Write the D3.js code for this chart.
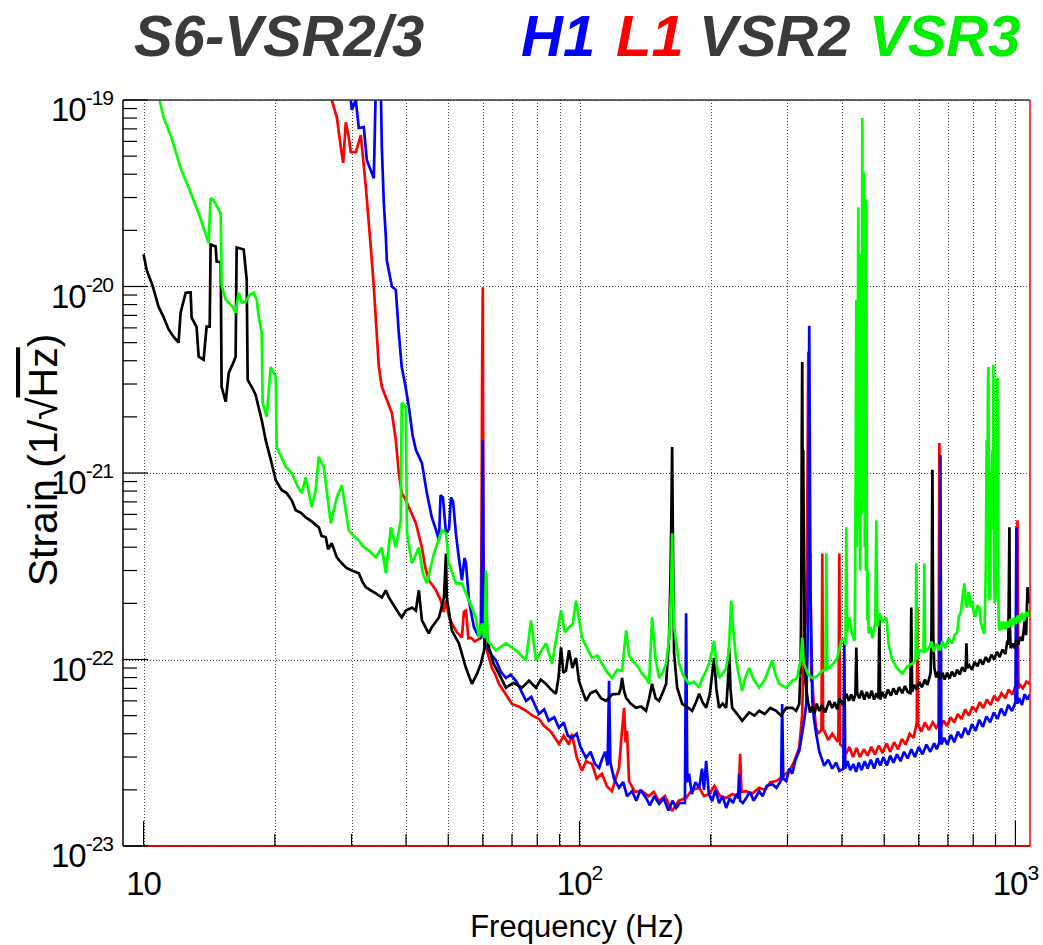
<!DOCTYPE html>
<html><head><meta charset="utf-8">
<script src="https://cdn.jsdelivr.net/npm/d3@7"></script>
<style>body{margin:0;background:#fff}text{font-family:"Liberation Sans",Arial,sans-serif}</style>
</head><body><svg id="c" width="1043" height="945"></svg>
<script>
// ---------- data: [frequency (Hz), strain (1/sqrt(Hz))] ----------
const h1Data = [[29.88,1.0e-19],[30.04,8.84e-20],[30.68,1.0e-19],[31.17,7.08e-20],[32.0,7.16e-20],[32.52,4.76e-20],[33.2,4.2e-20],[33.74,3.81e-20],[34.1,1.2e-19],[35.0,1.2e-19],[35.2,5.6e-20],[35.57,2.8e-20],[35.96,1.84e-20],[36.14,1.38e-20],[37.12,1.0e-20],[37.9,9.6e-21],[38.5,5.65e-21],[39.1,3.7e-21],[39.8,3.0e-21],[40.6,2.26e-21],[41.4,1.6e-21],[42.13,1.33e-21],[43.5,1.13e-21],[44.65,7.8e-22],[45.84,5.78e-22],[46.8,5.0e-22],[47.6,4.35e-22],[48.0,7.6e-22],[48.6,7.4e-22],[49.4,4.75e-22],[50.2,5.0e-22],[50.7,7.4e-22],[51.3,7.0e-22],[52.05,4.75e-22],[52.8,3.6e-22],[53.73,2.66e-22],[54.5,3.5e-22],[54.9,3.28e-22],[55.77,2.07e-22],[57.26,1.49e-22],[58.5,1.35e-22],[59.5,1.3e-22],[59.8,6e-22],[60.0,1.5e-21],[60.2,3e-22],[60.5,1.2e-22],[61.5,1.16e-22],[63,1.05e-22],[64.3,9.9e-23],[66,8.6e-23],[67.8,7.96e-23],[69.5,8.3e-23],[71.5,7.69e-23],[73,7.0e-23],[75.4,6.0e-23],[77.5,6.3e-23],[80.7,5.11e-23],[83,5.4e-23],[85,4.7e-23],[87.5,4.9e-23],[89.7,4.3e-23],[92,4.6e-23],[94,3.9e-23],[96.1,3.8e-23],[98.5,4.0e-23],[100.5,3.4e-23],[103.5,2.97e-23],[106,3.2e-23],[108.5,2.75e-23],[110.9,2.62e-23],[112.5,2.9e-23],[114.5,3.2e-23],[116,2.7e-23],[116.9,7.69e-23],[117.7,2.8e-23],[120,2.3e-23],[123.2,2.05e-23],[126,2.2e-23],[128.5,1.85e-23],[132,1.97e-23],[135,1.75e-23],[138,2.0e-23],[142.1,1.81e-23],[145,1.65e-23],[148.5,1.85e-23],[152.3,1.68e-23],[156,1.8e-23],[160,1.55e-23],[163.5,1.75e-23],[166.6,1.6e-23],[170,1.7e-23],[174.5,1.7e-23],[175.6,1.77e-22],[176.7,2.2e-23],[178.4,2.44e-23],[181,1.9e-23],[184.5,2.2e-23],[188.2,2.05e-23],[191,2.6e-23],[193,2.0e-23],[195.2,2.86e-23],[198,1.9e-23],[201.5,1.74e-23],[205,2.0e-23],[209,1.7e-23],[213,1.85e-23],[217,1.6e-23],[221,1.8e-23],[225,1.7e-23],[229,1.9e-23],[231.5,1.8e-23],[232.3,2.44e-23],[233.5,1.75e-23],[237,1.7e-23],[241.2,1.81e-23],[246,1.95e-23],[251,1.75e-23],[258.4,1.97e-23],[263,1.85e-23],[269,2.1e-23],[276.7,2.15e-23],[283,2.05e-23],[290,2.25e-23],[291.7,5.78e-23],[293.3,2.3e-23],[298,2.23e-23],[303,2.6e-23],[307.6,2.44e-23],[313,2.9e-23],[319.2,3.24e-23],[324,4.0e-23],[328,4.8e-23],[331.3,5.78e-23],[333.5,1.1e-22],[335.5,8e-22],[336.5,6.16e-21],[337.5,1.5e-21],[338.7,2.4e-22],[340.1,1.4e-22],[342,6.0e-23],[345,4.8e-23],[349.1,4.0e-23],[355,3.2e-23],[364.2,2.69e-23],[372,2.9e-23],[380,2.6e-23],[388,2.8e-23],[394.4,2.53e-23],[403,2.6e-23],[405,1.26e-22],[407,2.6e-23],[412,2.85e-23],[418,2.55e-23],[425,2.75e-23],[431,2.5e-23],[437,2.8e-23],[444,2.55e-23],[451,2.85e-23],[458,2.6e-23],[466,2.9e-23],[474,2.6e-23],[482,2.95e-23],[490,2.7e-23],[498,3.0e-23],[507,2.7e-23],[516,3.05e-23],[525,2.8e-23],[535,3.1e-23],[545,2.85e-23],[555,3.2e-23],[566,2.95e-23],[577,3.3e-23],[588,3.0e-23],[600,3.4e-23],[612,3.1e-23],[625,3.5e-23],[638,3.2e-23],[651,3.55e-23],[660,3.3e-23],[669,3.6e-23],[672.8,1.25e-21],[676,3.5e-23],[686,3.8e-23],[698,3.5e-23],[711,3.95e-23],[724,3.6e-23],[738,4.1e-23],[752,3.8e-23],[766,4.3e-23],[780,3.95e-23],[795,4.5e-23],[810,4.15e-23],[826,4.75e-23],[842,4.35e-23],[858,4.95e-23],[875,4.6e-23],[892,5.2e-23],[909,4.8e-23],[927,5.45e-23],[945,5.0e-23],[963,5.7e-23],[982,5.3e-23],[1000,5.9e-23],[1005,5.11e-22],[1010,5.8e-23],[1020,6.2e-23],[1035,5.7e-23],[1050,6.5e-23],[1066,6.1e-23],[1080,6.5e-23]];

const l1Data = [[27.02,1.0e-19],[27.75,8.1e-20],[28.34,5.6e-20],[28.7,4.6e-20],[29.1,7.6e-20],[29.5,6.5e-20],[29.88,5.26e-20],[30.68,5.26e-20],[31.5,6.49e-20],[32.35,3.41e-20],[33.2,1.63e-20],[33.74,1.0e-20],[34.2,6e-21],[34.65,3.7e-21],[35.2,2.9e-21],[36.14,2.47e-21],[37.12,2.1e-21],[37.9,1.5e-21],[38.5,1.0e-21],[39.1,7.8e-22],[39.8,7.3e-22],[40.6,6.55e-22],[42.13,5.38e-22],[43.5,3.99e-22],[44.3,3.1e-22],[45.1,2.66e-22],[46.0,2.5e-22],[46.84,2.35e-22],[48.08,2.07e-22],[48.8,1.8e-22],[49.4,2.07e-22],[50.2,1.7e-22],[50.96,1.56e-22],[52.3,1.4e-22],[53.73,1.31e-22],[54.3,1.8e-22],[54.9,1.83e-22],[55.6,1.3e-22],[56.36,1.31e-22],[57.5,1.25e-22],[59.3,1.3e-22],[59.6,4.3e-22],[59.8,3.7e-21],[60.0,9.9e-21],[60.2,4.2e-22],[60.6,1.22e-22],[61.8,1.05e-22],[62.96,9.0e-23],[64,8.4e-23],[65.34,7.4e-23],[67.5,6.6e-23],[69.98,5.78e-23],[72.5,5.6e-23],[75.4,5.31e-23],[78,5.0e-23],[80.7,4.81e-23],[83,4.4e-23],[86,4.1e-23],[89.7,3.53e-23],[92,3.9e-23],[94.5,3.5e-23],[96.1,3.99e-23],[98.5,3.0e-23],[101.3,2.53e-23],[103.5,2.85e-23],[106.8,2.76e-23],[109.5,2.3e-23],[112.6,2.44e-23],[115.5,2.1e-23],[118.7,1.97e-23],[121,2.3e-23],[123.2,2.62e-23],[125,4.0e-23],[126.6,5.51e-23],[127.5,3.6e-23],[128.5,4.15e-23],[129.9,2.23e-23],[134,1.95e-23],[139.2,1.97e-23],[144,1.85e-23],[148,1.95e-23],[152.3,1.74e-23],[157,1.85e-23],[163.1,1.54e-23],[169,1.75e-23],[175.6,1.81e-23],[181,2.0e-23],[188.2,2.05e-23],[193,1.85e-23],[198.4,1.9e-23],[204,2.1e-23],[210,1.85e-23],[217,1.81e-23],[224,1.9e-23],[230,1.85e-23],[232,2.0e-23],[233.6,3.12e-23],[235.3,1.95e-23],[241.2,1.97e-23],[248,1.9e-23],[258.4,2.05e-23],[266,2.0e-23],[274,2.2e-23],[282.6,2.23e-23],[292,2.35e-23],[302.7,2.53e-23],[310,2.8e-23],[319.2,3.36e-23],[324,5e-23],[326,8e-23],[327.8,2.07e-22],[330,1.5e-22],[332,3e-22],[333.5,1e-21],[334.8,4.47e-21],[336,1.2e-21],[337,2e-22],[338.3,3.7e-22],[340,7.7e-23],[342,7.69e-23],[345,5.5e-23],[349.1,4.3e-23],[353,4.0e-23],[359,4.2e-23],[360.6,3.7e-22],[362,4.2e-23],[364.2,4.15e-23],[372,3.7e-23],[380,4.0e-23],[390.3,3.66e-23],[392.5,3.7e-23],[394.4,3.7e-22],[396.3,3.5e-23],[400.6,3.44e-23],[408,3.1e-23],[416,3.4e-23],[424,3.0e-23],[432,3.35e-23],[440,3.0e-23],[449,3.3e-23],[458,3.05e-23],[467,3.4e-23],[476,3.1e-23],[486,3.45e-23],[496,3.15e-23],[506,3.55e-23],[516,3.2e-23],[527,3.6e-23],[538,3.3e-23],[549,3.75e-23],[560,3.5e-23],[572,4.0e-23],[584,3.8e-23],[594,4.6e-23],[595.7,1.9e-22],[597.5,4.5e-23],[608,4.1e-23],[620,4.6e-23],[633,4.2e-23],[646,4.6e-23],[658,4.3e-23],[666,4.5e-23],[669.2,1.45e-21],[672.5,4.3e-23],[684,4.7e-23],[697,4.4e-23],[710,4.9e-23],[724,4.6e-23],[738,5.1e-23],[752,4.8e-23],[767,5.4e-23],[782,5.0e-23],[797,5.6e-23],[812,5.3e-23],[828,5.9e-23],[844,5.5e-23],[860,6.1e-23],[877,5.7e-23],[894,6.4e-23],[911,6.0e-23],[929,6.6e-23],[947,6.2e-23],[965,6.9e-23],[984,6.5e-23],[1000,7.2e-23],[1006,6.9e-23],[1011,5.58e-22],[1016,7e-23],[1025,7.3e-23],[1040,7.0e-23],[1060,7.6e-23],[1080,7.4e-23]];

const vsr2Data = [[10,1.49e-20],[10.16,1.23e-20],[10.5,1.0e-20],[10.82,7.8e-21],[11.1,6.9e-21],[11.41,5.9e-21],[11.7,5.4e-21],[12.03,5.0e-21],[12.16,7.23e-21],[12.49,9.26e-21],[12.82,9.3e-21],[12.89,6.8e-21],[13.23,6.08e-21],[13.38,4.2e-21],[13.73,4.05e-21],[13.95,6.1e-21],[14.18,6.1e-21],[14.25,1.68e-20],[14.63,1.64e-20],[14.71,1.36e-20],[15.03,1.35e-20],[15.1,2.9e-21],[15.43,2.41e-21],[15.68,3.44e-21],[16.09,3.94e-21],[16.26,4.2e-21],[16.35,1.62e-20],[16.97,1.58e-20],[17.24,1.09e-20],[17.33,3.16e-21],[17.7,2.9e-21],[18.08,2.62e-21],[18.4,2.2e-21],[18.66,1.93e-21],[19.06,1.5e-21],[19.67,1.13e-21],[20.1,9.15e-22],[20.75,8.08e-22],[21.3,7.8e-22],[21.87,7.14e-22],[22.34,6.31e-22],[23.0,6.1e-22],[23.55,5.78e-22],[24.3,5.5e-22],[25.23,5.11e-22],[25.6,4.6e-22],[26.18,4.52e-22],[26.5,3.9e-22],[27.02,4.2e-22],[27.75,3.53e-22],[28.49,3.28e-22],[29.2,3.1e-22],[30.04,3.0e-22],[31.17,2.9e-22],[31.8,2.6e-22],[32.35,2.44e-22],[33.2,2.35e-22],[34.1,2.26e-22],[35.2,2.15e-22],[35.96,2.35e-22],[36.53,2.15e-22],[37.5,1.95e-22],[38.5,1.77e-22],[39.1,1.68e-22],[39.96,1.83e-22],[41.25,1.9e-22],[42.13,1.83e-22],[42.8,2.35e-22],[43.5,1.62e-22],[45.1,1.38e-22],[45.84,1.49e-22],[47.6,1.68e-22],[48.87,2.15e-22],[49.4,3.7e-22],[49.6,2.15e-22],[50.96,1.43e-22],[52.9,1.22e-22],[54.9,9.0e-23],[56.66,7.4e-23],[58.2,8.4e-23],[59.4,9.5e-23],[60.3,1.1e-22],[60.7,1.2e-22],[61.0,2.9e-22],[61.4,1.3e-22],[61.97,1.16e-22],[63.5,9.5e-23],[65.34,8.4e-23],[67.8,7.06e-23],[70.5,7.5e-23],[73.8,7.06e-23],[76.6,7.69e-23],[79.45,7.06e-23],[81.5,7.8e-23],[83.8,7.4e-23],[86,6.9e-23],[88.3,6.55e-23],[89.5,8e-23],[90.7,1.16e-22],[91.8,8.5e-23],[93.1,8.7e-23],[94.6,1.12e-22],[96.3,9e-23],[98.2,1.02e-22],[99.7,7.69e-23],[101.5,6.8e-23],[103.5,6.0e-23],[106,6.6e-23],[109.1,6.8e-23],[112,6.2e-23],[115,6.0e-23],[119,6.5e-23],[123.2,6.55e-23],[124.3,7e-23],[125.2,7.96e-23],[126.5,6.8e-23],[127.9,6.22e-23],[131,5.8e-23],[134.8,5.51e-23],[138.5,5.6e-23],[142.1,5.31e-23],[144.5,6.2e-23],[146.7,7.4e-23],[149.5,6.2e-23],[152.3,6.0e-23],[155,6.6e-23],[158,7.4e-23],[160.5,1.31e-22],[161.8,3e-22],[162.6,7e-22],[163.1,1.38e-21],[163.7,5e-22],[164.3,2e-22],[164.8,1.08e-22],[167.5,7.06e-23],[172,5.78e-23],[176,5.6e-23],[181.3,5.31e-23],[185,5.9e-23],[188.2,6.55e-23],[191.5,5.9e-23],[195.2,5.51e-23],[199,6.5e-23],[203.6,1.02e-22],[206,7e-23],[209,5.51e-23],[213,5.8e-23],[217,5.51e-23],[219,7.5e-23],[220.4,1.16e-22],[222,7e-23],[224,5.51e-23],[230,5.1e-23],[236.1,4.69e-23],[245,5.2e-23],[252,5.0e-23],[258.4,5.31e-23],[266,5.1e-23],[274,5.5e-23],[282.6,5.31e-23],[290,5.0e-23],[298,5.5e-23],[307.6,5.51e-23],[314,5.3e-23],[319.2,5.78e-23],[321.5,9e-23],[322.6,2.07e-22],[323.5,1.5e-21],[324.3,3.94e-21],[325,8e-22],[326,1.33e-21],[327.2,3e-22],[329.5,7.69e-23],[334,6e-23],[338,5.2e-23],[342,5.6e-23],[346,5.1e-23],[350,5.8e-23],[355,5.3e-23],[360,5.7e-23],[366,5.2e-23],[374,6.0e-23],[380,5.5e-23],[385,5.9e-23],[390,5.4e-23],[395,6.2e-23],[402,5.7e-23],[409.3,6.55e-23],[415,6.0e-23],[420,6.5e-23],[425,6.0e-23],[429.5,6.5e-23],[431.5,1.16e-22],[433.5,6.6e-23],[438.4,6.2e-23],[444,6.8e-23],[450,6.1e-23],[456,6.7e-23],[462,6.2e-23],[468,6.8e-23],[474,6.1e-23],[480,6.6e-23],[485,6.2e-23],[487.3,1.77e-22],[489.5,6.1e-23],[495,6.7e-23],[502,6.2e-23],[510,6.9e-23],[518,6.4e-23],[525,7.0e-23],[533,6.5e-23],[541,7.1e-23],[550,6.6e-23],[558,7.2e-23],[566,6.7e-23],[574,6.6e-23],[576.9,1.9e-22],[579.5,6.7e-23],[586,7.3e-23],[594,6.9e-23],[602,7.6e-23],[610,7.1e-23],[620,7.8e-23],[628,7.3e-23],[634.7,7.96e-23],[639,8.5e-23],[642,1.5e-22],[643.5,4e-22],[645,1.04e-21],[646.5,3e-22],[648,1.3e-22],[651.6,9.0e-23],[658,8.0e-23],[665,8.6e-23],[672,7.8e-23],[680,8.5e-23],[688,7.8e-23],[697,8.5e-23],[706,7.9e-23],[715,8.6e-23],[725,8.1e-23],[735,8.8e-23],[745,8.3e-23],[755,9.1e-23],[765,8.6e-23],[769,9e-23],[772,1.22e-22],[775,9e-23],[784,9.3e-23],[795,8.8e-23],[806,9.7e-23],[818,9.2e-23],[830,1.0e-22],[842,9.4e-23],[855,1.03e-22],[868,9.7e-23],[881,1.06e-22],[894,1.0e-22],[907,1.1e-22],[920,1.03e-22],[934,1.13e-22],[948,1.07e-22],[958.6,1.26e-22],[963,1.2e-22],[966,2.5e-22],[968.7,5.11e-22],[971,1.5e-22],[975,1.15e-22],[985,1.22e-22],[995,1.15e-22],[1005,1.27e-22],[1015,1.2e-22],[1025,1.32e-22],[1038,1.26e-22],[1050,1.6e-22],[1058,1.35e-22],[1066,2.44e-22],[1075,2.0e-22]];

const vsr3Data = [[10.88,1.0e-19],[11.11,8.1e-20],[11.6,6.25e-20],[12.16,4.31e-20],[12.68,3.41e-20],[13.38,2.47e-20],[14.1,1.71e-20],[14.25,2.98e-20],[14.48,2.9e-20],[15.03,2.47e-20],[15.1,1.02e-20],[15.43,8.5e-21],[16.0,7.8e-21],[16.26,7.23e-21],[16.52,9.26e-21],[16.8,8.2e-21],[17.15,8.3e-21],[17.5,9.0e-21],[17.89,9.26e-21],[18.17,8.5e-21],[18.37,6.88e-21],[18.66,5.65e-21],[18.76,2.38e-21],[19.16,2.0e-21],[19.57,3.7e-21],[20.1,3.28e-21],[20.2,1.38e-21],[21.19,1.08e-21],[21.87,1.0e-21],[22.5,8.6e-22],[23.06,7.8e-22],[23.55,9.5e-22],[24.31,6.55e-22],[24.8,8e-22],[25.23,1.22e-21],[25.9,1.08e-21],[26.88,5.38e-22],[27.75,7.4e-22],[28.49,8.6e-22],[29.56,4.93e-22],[30.3,4.6e-22],[31.17,4.35e-22],[32.0,4.0e-22],[32.87,3.84e-22],[34.1,3.53e-22],[35.2,3.99e-22],[35.96,2.9e-22],[36.92,5.11e-22],[37.9,3.99e-22],[38.9,5.58e-22],[39.1,2.38e-21],[39.96,2.26e-21],[40.2,4.75e-22],[41.25,3.28e-22],[42.8,3.99e-22],[43.7,2.9e-22],[44.65,2.56e-22],[46.35,3.7e-22],[48.33,4.93e-22],[49.4,4.75e-22],[50.15,3.28e-22],[52.05,2.56e-22],[53.73,2.56e-22],[55.77,2.07e-22],[57.85,1.68e-22],[58.78,1.31e-22],[59.72,1.56e-22],[60.6,1.3e-22],[61.0,3.0e-22],[61.5,1.26e-22],[64.3,1.12e-22],[67.8,1.22e-22],[71.5,1.12e-22],[75.4,9.9e-23],[77.4,1.62e-22],[79.45,9.9e-23],[81.5,1.1e-22],[83.8,1.22e-22],[86.5,9.5e-23],[90.7,1.83e-22],[92.5,1.4e-22],[94.6,1.49e-22],[96.5,1.55e-22],[98.2,2.07e-22],[101.3,1.31e-22],[104,1.15e-22],[106.8,1.02e-22],[110,1.05e-22],[112.6,9.5e-23],[115.5,8.6e-23],[118.7,7.96e-23],[122,8.8e-23],[125.2,8.7e-23],[127.9,1.43e-22],[130,1.05e-22],[132,9.9e-23],[136,9.2e-23],[139.2,8.4e-23],[142,8.0e-23],[144.4,7.4e-23],[146.7,1.68e-22],[149.5,1.0e-22],[152.3,7.96e-23],[155,8.5e-23],[158,9.5e-23],[160.5,1.3e-22],[162.3,2.4e-22],[163.1,4.75e-22],[164,2.2e-22],[164.8,1.49e-22],[169.2,9.5e-23],[173,8.2e-23],[178.4,7.4e-23],[183,7.6e-23],[188.2,7.06e-23],[191,7.9e-23],[195.2,8.7e-23],[199,9.8e-23],[203.6,1.26e-22],[206,9.5e-23],[209,7.96e-23],[213,8.4e-23],[217,9.0e-23],[220,1.1e-22],[222.8,2.07e-22],[225.5,1.4e-22],[228.8,9.9e-23],[232,8.2e-23],[236.1,6.8e-23],[240,8.0e-23],[245.1,9.0e-23],[251,7.8e-23],[258.4,7.06e-23],[266,7.8e-23],[276.7,9.9e-23],[282,8.2e-23],[287.2,7.4e-23],[298,7.06e-23],[307.6,7.69e-23],[315,7.9e-23],[322,1.0e-22],[324.3,1.31e-22],[327,9.5e-23],[335,8.3e-23],[342,7.96e-23],[350,8.1e-23],[360.6,8.7e-23],[366.5,8.8e-23],[368.3,3.7e-22],[370,8.9e-23],[374,9.0e-23],[382,9.5e-23],[390.3,1.02e-22],[398.6,1.26e-22],[405,1.3e-22],[407.5,1.2e-22],[409.3,5.11e-22],[411,1.4e-22],[415.8,1.68e-22],[421,1.4e-22],[426.9,1.26e-22],[428,1.3e-22],[430,8e-22],[431.5,8.5e-21],[433,4e-22],[434.5,3e-21],[436.1,2.66e-20],[437.5,5e-22],[439,6e-21],[440.5,3e-22],[442,1.5e-20],[443.1,2.47e-21],[444.3,6e-22],[445.4,8e-20],[446.5,1.5e-21],[447.7,7.14e-22],[449,1.2e-20],[450.1,4.1e-20],[451.3,4e-22],[452.5,8e-21],[453.7,3e-22],[454.9,2.94e-20],[456,5e-22],[457.3,1.62e-22],[459,3e-22],[460.5,1.38e-22],[465,1.5e-22],[470,1.3e-22],[477,1.6e-22],[479.6,5.58e-22],[482,1.5e-22],[487.3,1.77e-22],[495,1.6e-22],[505.6,1.68e-22],[512,1.2e-22],[521.9,9.9e-23],[535,9e-23],[550.3,8.4e-23],[565,9.2e-23],[580,9.5e-23],[590,1e-22],[592.5,3.28e-22],[595,1e-22],[602,1.12e-22],[615.5,1.1e-22],[618,3.28e-22],[620.5,1.1e-22],[634.7,1.16e-22],[642,1.25e-22],[650,1.1e-22],[660,1.22e-22],[669.2,1.12e-22],[680,1.25e-22],[690,1.15e-22],[703,1.3e-22],[716.6,1.22e-22],[725,1.35e-22],[735,1.4e-22],[742,1.7e-22],[750,1.8e-22],[757,2.2e-22],[763.7,2.56e-22],[769,2.0e-22],[775,1.9e-22],[780,2.3e-22],[785,2.2e-22],[790,1.9e-22],[796.8,2.07e-22],[803,1.75e-22],[810,1.7e-22],[818,1.95e-22],[826.7,1.9e-22],[832,1.6e-22],[838,1.5e-22],[845,1.4e-22],[849,1.38e-22],[855,3e-22],[859,1.5e-21],[862.6,7.14e-22],[865,3e-21],[867.1,3.7e-21],[869,3e-22],[871.7,2.07e-22],[875,3e-22],[880,9e-22],[885.6,1.33e-21],[888,5e-22],[890.3,3.8e-21],[893,4e-22],[896,2e-22],[899.8,2.07e-22],[903,5e-22],[906,1.5e-21],[909.4,3.24e-21],[912,3e-22],[916,1.5e-22],[919,1.43e-22],[925,1.6e-22],[932,1.45e-22],[940,1.6e-22],[948,1.45e-22],[956,1.6e-22],[964,1.48e-22],[973,1.65e-22],[982,1.5e-22],[992,1.68e-22],[1002,1.55e-22],[1012,1.72e-22],[1022,1.58e-22],[1034,1.78e-22],[1046,1.62e-22],[1058,1.8e-22],[1068,1.7e-22],[1080,1.85e-22]];

const seriesNames = ["H1","L1","VSR2","VSR3"];
const seriesColors = ["#0000ff","#ff0000","#3a3a3a","#00ee00"];
const xMajorTicks = [10,100,1000];
const xMajorLabels = [["10",""],["10","2"],["10","3"]];
const yMajorTicks = [1e-23,1e-22,1e-21,1e-20,1e-19];
const yMajorLabels = ["-23","-22","-21","-20","-19"];

// ---------- layout ----------
const svg = d3.select("#c");
const L=123,R=1030,T=100,B=846;
const x = d3.scaleLog().domain([8.97,1080]).range([L,R]);
const y = d3.scaleLog().domain([1e-23,1e-19]).range([B,T]);

const minorX = [];
[10,100].forEach(d=>{for(let k=1;k<=9;k++) minorX.push(d*k);});
minorX.push(1000);
const minorY = [];
[1e-23,1e-22,1e-21,1e-20].forEach(d=>{for(let k=2;k<=9;k++) minorY.push(d*k);});

// grid
const grid = svg.append("g").attr("stroke","#444").attr("stroke-width",1).attr("stroke-dasharray","1,2");
grid.selectAll(".gx").data(minorX).join("line")
  .attr("x1",d=>Math.round(x(d))+0.5).attr("x2",d=>Math.round(x(d))+0.5).attr("y1",T).attr("y2",B);
grid.selectAll(".gy").data(yMajorTicks).join("line")
  .attr("y1",d=>Math.round(y(d))+0.5).attr("y2",d=>Math.round(y(d))+0.5).attr("x1",L).attr("x2",R);

// clip
svg.append("clipPath").attr("id","clip").append("rect").attr("x",L).attr("y",T).attr("width",R-L).attr("height",B-T);

const line = d3.line().x(d=>x(d[0])).y(d=>y(d[1]));
const plot = svg.append("g").attr("clip-path","url(#clip)");
const series = [
  {d:l1Data,c:"#ff0000"},
  {d:h1Data,c:"#0000ff"},
  {d:vsr2Data,c:"#000000"},
  {d:vsr3Data,c:"#00ff00"}
];
series.forEach(se=>{
  plot.append("path").datum(se.d).attr("d",line).attr("fill","none")
    .attr("stroke",se.c).attr("stroke-width",2.7).attr("stroke-linejoin","miter").attr("stroke-miterlimit",2);
});

// frame
svg.append("line").attr("x1",L).attr("x2",R).attr("y1",T).attr("y2",T).attr("stroke","#333").attr("stroke-width",1.5);
svg.append("line").attr("x1",L).attr("x2",L).attr("y1",T).attr("y2",B).attr("stroke","#000").attr("stroke-width",1.5);
svg.append("line").attr("x1",L).attr("x2",R).attr("y1",B).attr("y2",B).attr("stroke","#000").attr("stroke-width",1.5);
svg.append("path").attr("d",`M${x(10)},${B}L${R},${B}L${R},${T}`).attr("fill","none").attr("stroke","#ff0000").attr("stroke-width",1.5);

// ticks
const tk = svg.append("g").attr("stroke","#000").attr("stroke-width",1.2);
tk.selectAll(".ym").data(yMajorTicks).join("line").attr("x1",L).attr("x2",L+25).attr("y1",d=>y(d)).attr("y2",d=>y(d));
tk.selectAll(".yn").data(minorY).join("line").attr("x1",L).attr("x2",L+14).attr("y1",d=>y(d)).attr("y2",d=>y(d));
tk.selectAll(".xm").data(xMajorTicks).join("line").attr("y1",B).attr("y2",B-25).attr("x1",d=>x(d)).attr("x2",d=>x(d));
tk.selectAll(".xn").data(minorX.filter(d=>!xMajorTicks.includes(d))).join("line").attr("y1",B).attr("y2",B-12).attr("x1",d=>x(d)).attr("x2",d=>x(d));

// tick labels
yMajorTicks.forEach((v,i)=>{
  const t = svg.append("text").attr("x",113).attr("y",y(v)+21).attr("text-anchor","end")
    .attr("font-size",33).attr("fill","#000").attr("letter-spacing",-1);
  t.append("tspan").text("10");
  t.append("tspan").attr("dy",-16).attr("font-size",21).text(yMajorLabels[i]);
});
xMajorTicks.forEach((v,i)=>{
  const t = svg.append("text").attr("x",x(v)).attr("y",895).attr("text-anchor","middle")
    .attr("font-size",33).attr("fill","#000").attr("letter-spacing",-1);
  t.append("tspan").text(xMajorLabels[i][0]);
  if(xMajorLabels[i][1]) t.append("tspan").attr("dy",-15).attr("font-size",21).text(xMajorLabels[i][1]);
});

// axis titles
svg.append("text").attr("x",577).attr("y",937).attr("text-anchor","middle").attr("font-size",31).text("Frequency (Hz)");
const yt = svg.append("text").attr("transform","translate(57,460) rotate(-90)").attr("text-anchor","middle").attr("font-size",41);
yt.append("tspan").text("Strain (1/√");
yt.append("tspan").attr("text-decoration","overline").text("Hz");
yt.append("tspan").text(")");

// title + legend
svg.append("text").attr("x",134).attr("y",56).attr("font-size",58).attr("font-weight","bold").attr("font-style","italic").attr("fill","#3a3a3a").text("S6-VSR2/3");
const legX = [521,616,699,869];
seriesNames.forEach((n,i)=>{
  svg.append("text").attr("x",legX[i]).attr("y",56).attr("font-size",58).attr("font-weight","bold").attr("font-style","italic").attr("fill",seriesColors[i]).text(n);
});
</script></body></html>
